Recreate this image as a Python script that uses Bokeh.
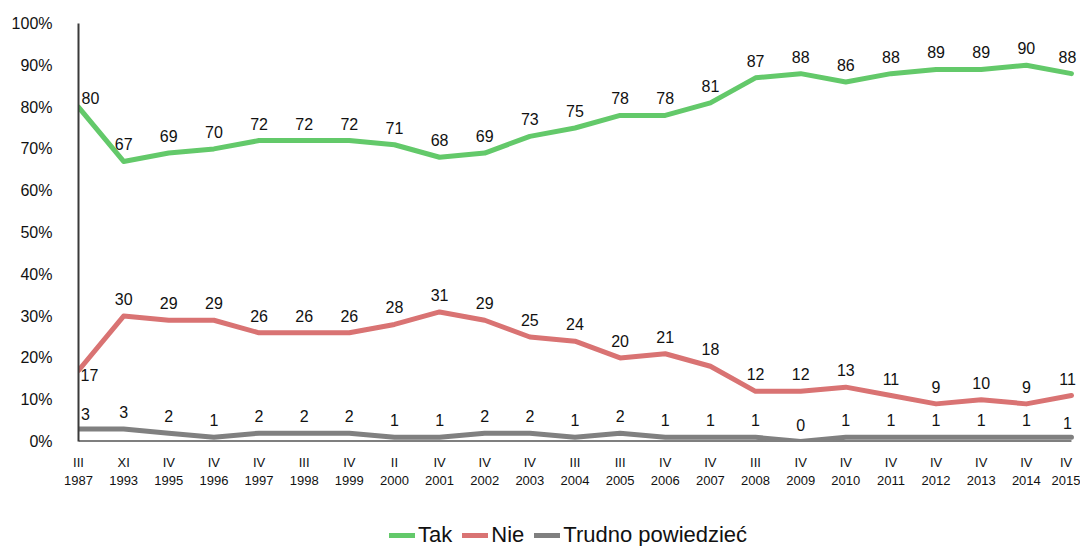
from bokeh.plotting import figure
from bokeh.models import Range1d, FixedTicker, Legend, LegendItem, ColumnDataSource
from bokeh.layouts import column
from bokeh.embed import file_html
from bokeh.resources import INLINE
from bokeh.core.properties import value

periods = ["III", "XI", "IV", "IV", "IV", "III", "IV", "II", "IV", "IV", "IV", "III",
           "III", "IV", "IV", "III", "IV", "IV", "IV", "IV", "IV", "IV", "IV"]
years = ["1987", "1993", "1995", "1996", "1997", "1998", "1999", "2000", "2001", "2002",
         "2003", "2004", "2005", "2006", "2007", "2008", "2009", "2010", "2011", "2012",
         "2013", "2014", "2015"]
tak = [80, 67, 69, 70, 72, 72, 72, 71, 68, 69, 73, 75, 78, 78, 81, 87, 88, 86, 88, 89, 89, 90, 88]
nie = [17, 30, 29, 29, 26, 26, 26, 28, 31, 29, 25, 24, 20, 21, 18, 12, 12, 13, 11, 9, 10, 9, 11]
trudno = [3, 3, 2, 1, 2, 2, 2, 1, 1, 2, 2, 1, 2, 1, 1, 1, 0, 1, 1, 1, 1, 1, 1]
series_names = ["Tak", "Nie", "Trudno powiedzieć"]
colors = ["#63c96a", "#d97373", "#808080"]

FONT = "Liberation Sans"
n = len(years)
xs = list(range(n))

p = figure(width=1080, height=516, output_backend="svg", toolbar_location=None,
           x_range=Range1d(0, 22.2), y_range=Range1d(0, 100),
           min_border_left=78, min_border_right=0, min_border_top=23, min_border_bottom=75)
p.outline_line_color = None
p.xgrid.grid_line_color = None
p.ygrid.grid_line_color = None

# axes
p.yaxis.ticker = FixedTicker(ticks=list(range(0, 101, 10)))
p.yaxis.major_label_overrides = {v: f"{v}%" for v in range(0, 101, 10)}
p.yaxis.major_tick_line_color = None
p.yaxis.minor_tick_line_color = None
p.yaxis.axis_line_color = "#3a3a3a"
p.yaxis.axis_line_width = 2
p.yaxis.major_label_standoff = 20
p.yaxis.major_label_text_font = FONT
p.yaxis.major_label_text_font_size = "16px"
p.yaxis.major_label_text_color = "#111111"

p.xaxis.ticker = FixedTicker(ticks=xs)
p.xaxis.major_label_overrides = {i: f"{periods[i]}\n{years[i]}" for i in xs}
p.xaxis.major_tick_line_color = None
p.xaxis.minor_tick_line_color = None
p.xaxis.axis_line_color = None
p.xaxis.major_label_standoff = 7
p.xaxis.major_label_text_font = FONT
p.xaxis.major_label_text_font_size = "13px"
p.xaxis.major_label_text_color = "#111111"

# baseline spanning the categories
p.segment(x0=[0], y0=[0], x1=[n - 1], y1=[0], line_color="black", line_width=2)

for vals, col in zip([tak, nie, trudno], colors):
    p.line(xs, vals, line_color=col, line_width=5, line_cap="round", line_join="round")

def offsets(kind):
    xo = [0] * n
    yo = [-17] * n
    al = ["center"] * n
    xo[-1] = -4
    if kind == 0:
        xo[0], yo[0], al[0] = 3, -9, "left"
    elif kind == 1:
        xo[0], yo[0], al[0] = 2, 5, "left"
    else:
        xo[0], yo[0] = 7, -15
        yo[-1] = -14
    return xo, yo, al

for k, vals in enumerate([tak, nie, trudno]):
    xo, yo, al = offsets(k)
    src = ColumnDataSource(dict(x=xs, y=vals, t=[str(v) for v in vals], xo=xo, yo=yo, al=al))
    p.text(x="x", y="y", text="t", source=src, x_offset="xo", y_offset="yo",
           text_align="al", text_baseline="middle",
           text_font=value(FONT), text_font_size="16px", text_color="#111111")

# legend strip below the chart (its sample lines lie outside the visible range)
lf = figure(width=1080, height=30, output_backend="svg", toolbar_location=None,
            x_range=Range1d(0, 1), y_range=Range1d(0, 1),
            min_border_left=0, min_border_right=0, min_border_top=0, min_border_bottom=0)
lf.axis.visible = False
lf.grid.visible = False
lf.outline_line_color = None
lrs = [lf.line(x=[-5, -4], y=[-5, -5], line_color=col, line_width=5, line_cap="round")
       for col in colors]

legend = Legend(items=[LegendItem(label=nm, renderers=[r]) for nm, r in zip(series_names, lrs)],
                orientation="horizontal", location=(311, -2))
legend.label_text_font = FONT
legend.label_text_font_size = "22px"
legend.label_text_color = "#111111"
legend.glyph_width = 26
legend.glyph_height = 20
legend.label_standoff = 3
legend.spacing = 10
legend.padding = 0
legend.margin = 0
legend.border_line_color = None
legend.background_fill_alpha = 0
lf.add_layout(legend, "center")

open("out.html", "w").write(file_html(column(p, lf), INLINE))
